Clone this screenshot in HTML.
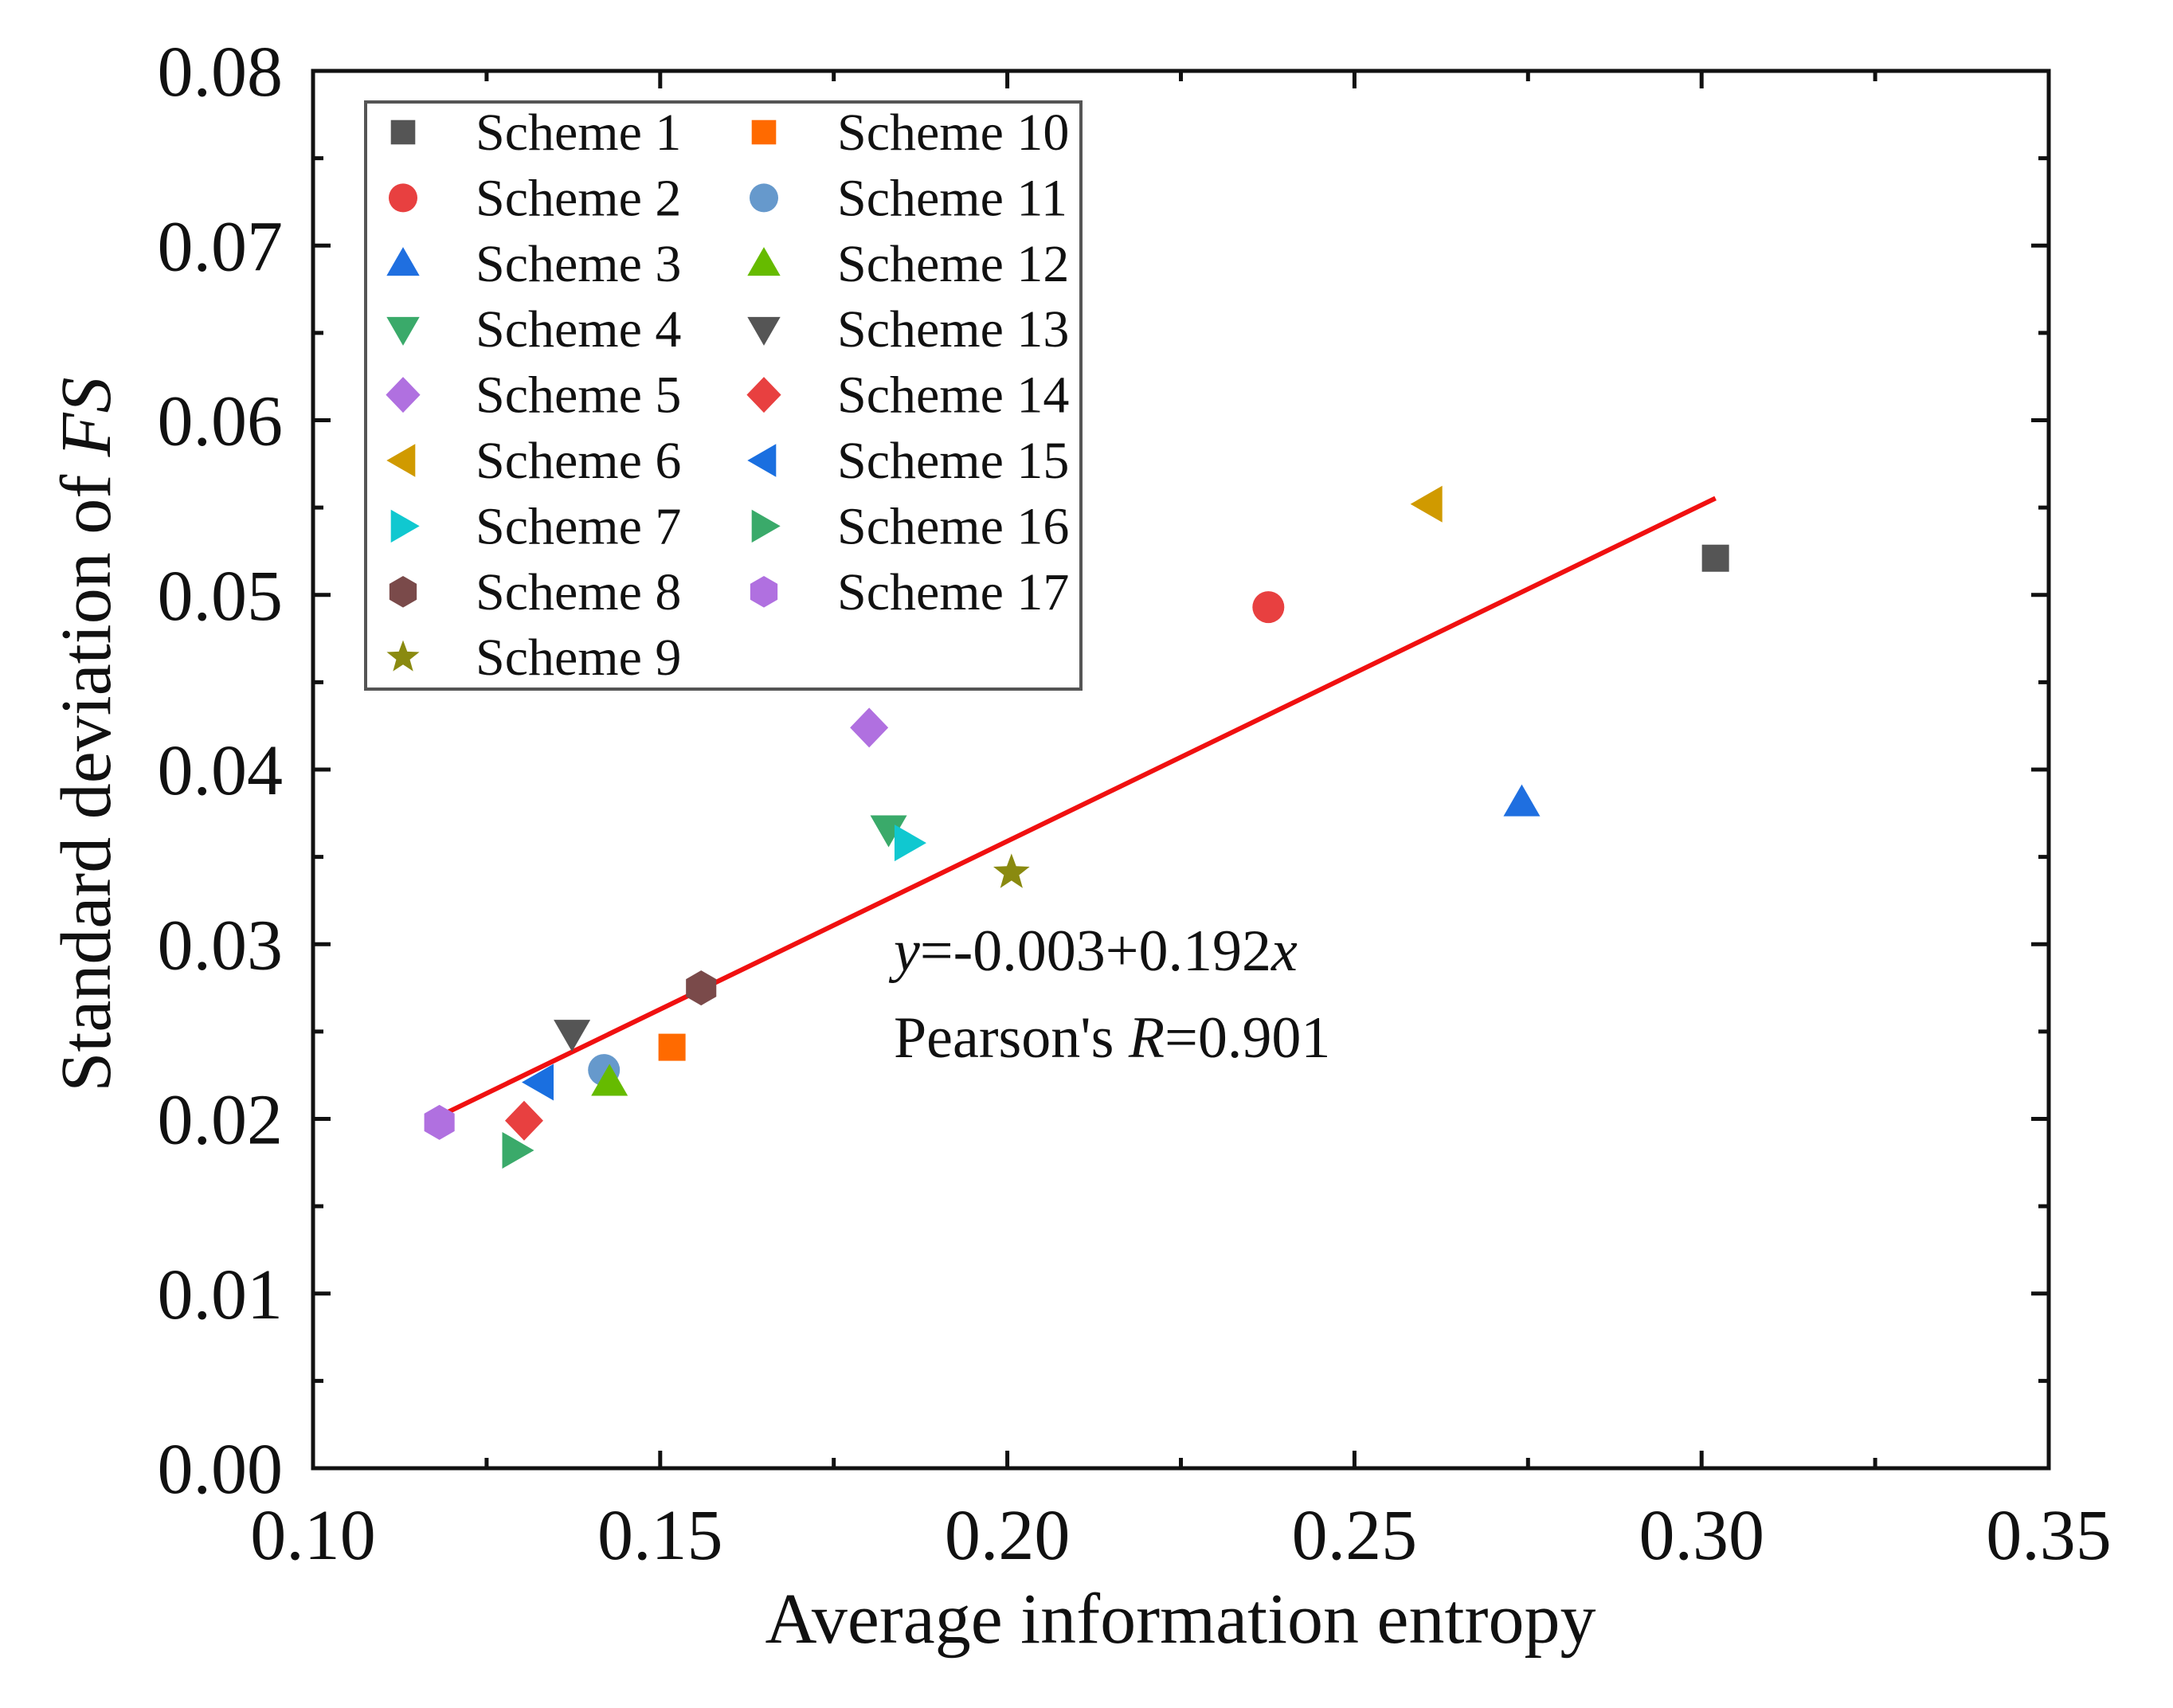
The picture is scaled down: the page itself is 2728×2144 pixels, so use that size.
<!DOCTYPE html>
<html><head><meta charset="utf-8"><style>
html,body{margin:0;padding:0;background:#fff;}
svg{display:block;font-family:"Liberation Serif",serif;}
</style></head><body>
<svg id="chart" width="2728" height="2144" viewBox="0 0 2728 2144" xmlns="http://www.w3.org/2000/svg">
<rect width="2728" height="2144" fill="#fff"/>
<g id="plot"></g>
</svg>
<script>
const schemes = ["Scheme 1","Scheme 2","Scheme 3","Scheme 4","Scheme 5","Scheme 6","Scheme 7","Scheme 8","Scheme 9","Scheme 10","Scheme 11","Scheme 12","Scheme 13","Scheme 14","Scheme 15","Scheme 16","Scheme 17"];
const xValues = [0.302,0.2376,0.2741,0.1829,0.1801,0.2607,0.1857,0.1559,0.2006,0.1517,0.1419,0.1427,0.1373,0.1304,0.1327,0.1292,0.1182];
const yValues = [0.0521,0.0493,0.0381,0.0366,0.0424,0.0552,0.0358,0.0275,0.0341,0.0241,0.0228,0.0221,0.0249,0.0199,0.0221,0.0182,0.0198];
const shapes = ["square","circle","up","down","diamond","left","right","hex","star","square","circle","up","down","diamond","left","right","hex"];
const colors = ["#555555","#e84040","#1f6fe0","#3aaa6a","#b070e0","#d09a00","#10c8d0","#7a4a4a","#8a8a10","#ff6a00","#6699cc","#66bb00","#555555","#e84040","#1a6fe0","#3aaa6a","#b070e0"];
const xTicks = [0.10,0.15,0.20,0.25,0.30,0.35];
const yTicks = [0.00,0.01,0.02,0.03,0.04,0.05,0.06,0.07,0.08];
const fitIntercept = -0.0026;
const fitSlope = 0.1925;
const fitRange = [0.1182,0.302];

const L=393,R=2572,T=89,B=1843;
const X0=0.10,X1=0.35,Y0=0,Y1=0.08;
const sx=v=>L+(v-X0)/(X1-X0)*(R-L);
const sy=v=>B-(v-Y0)/(Y1-Y0)*(B-T);
const NS="http://www.w3.org/2000/svg";
const g=document.getElementById('plot');
function el(tag,attrs,parent){const e=document.createElementNS(NS,tag);for(const k in attrs)e.setAttribute(k,attrs[k]);(parent||g).appendChild(e);return e;}

function marker(shape,cx,cy,color,s){
  let e;
  if(shape==="square") e=el('rect',{x:cx-s*0.85,y:cy-s*0.85,width:s*1.7,height:s*1.7,fill:color});
  else if(shape==="circle") e=el('circle',{cx:cx,cy:cy,r:s,fill:color});
  else {
    let pts=[];
    if(shape==="up") pts=[[0,-1.15],[1.15,0.85],[-1.15,0.85]];
    else if(shape==="down") pts=[[0,1.15],[1.15,-0.85],[-1.15,-0.85]];
    else if(shape==="left") pts=[[-1.15,0],[0.85,-1.15],[0.85,1.15]];
    else if(shape==="right") pts=[[1.15,0],[-0.85,-1.15],[-0.85,1.15]];
    else if(shape==="diamond") pts=[[0,-1.25],[1.2,0],[0,1.25],[-1.2,0]];
    else if(shape==="hex"){for(let i=0;i<6;i++){const a=Math.PI/6+i*Math.PI/3;pts.push([Math.cos(a)*1.1,Math.sin(a)*1.1]);}}
    else if(shape==="star"){for(let i=0;i<10;i++){const a=-Math.PI/2+i*Math.PI/5;const r=i%2?0.5:1.2;pts.push([Math.cos(a)*r,Math.sin(a)*r]);}}
    e=el('polygon',{points:pts.map(p=>(cx+p[0]*s)+','+(cy+p[1]*s)).join(' '),fill:color});
  }
  return e;
}

const frame=el('rect',{x:L,y:T,width:R-L,height:B-T,fill:'none',stroke:'#111','stroke-width':5});



xTicks.forEach((v,i)=>{
  const x=sx(v);
  el('line',{x1:x,y1:B,x2:x,y2:B-22,stroke:'#111','stroke-width':5});
  el('line',{x1:x,y1:T,x2:x,y2:T+22,stroke:'#111','stroke-width':5});
  if(i<xTicks.length-1){const m=sx(v+0.025);
    el('line',{x1:m,y1:B,x2:m,y2:B-13,stroke:'#111','stroke-width':5});
    el('line',{x1:m,y1:T,x2:m,y2:T+13,stroke:'#111','stroke-width':5});}
  const t=el('text',{x:x,y:1957,'text-anchor':'middle','font-size':90,fill:'#111'});
  t.textContent=v.toFixed(2);
  
  
});
yTicks.forEach((v,i)=>{
  const y=sy(v);
  el('line',{x1:L,y1:y,x2:L+22,y2:y,stroke:'#111','stroke-width':5});
  el('line',{x1:R,y1:y,x2:R-22,y2:y,stroke:'#111','stroke-width':5});
  if(i<yTicks.length-1){const m=sy(v+0.005);
    el('line',{x1:L,y1:m,x2:L+13,y2:m,stroke:'#111','stroke-width':5});
    el('line',{x1:R,y1:m,x2:R-13,y2:m,stroke:'#111','stroke-width':5});}
  const t=el('text',{x:355,y:y+31,'text-anchor':'end','font-size':90,fill:'#111'});
  t.textContent=v.toFixed(2);
  
  
});

const xt=el('text',{x:1482,y:2062,'text-anchor':'middle','font-size':90,fill:'#111'});
xt.textContent='Average information entropy';


const yt=el('text',{x:0,y:0,'text-anchor':'middle','font-size':90,fill:'#111',transform:'translate(138,922) rotate(-90)'});
yt.innerHTML='Standard deviation of <tspan font-style="italic">FS</tspan>';



const fl=el('line',{x1:sx(fitRange[0]),y1:sy(fitIntercept+fitSlope*fitRange[0]),x2:sx(fitRange[1]),y2:sy(fitIntercept+fitSlope*fitRange[1]),stroke:'#f01010','stroke-width':6});



schemes.forEach((s,i)=>{
  const m=marker(shapes[i],sx(xValues[i]),sy(yValues[i]),colors[i],20);
  
  
});

const a1=el('text',{x:1122,y:1218,'font-size':74,fill:'#111'});
a1.innerHTML='<tspan font-style="italic">y</tspan>=-0.003+0.192<tspan font-style="italic">x</tspan>';


const a2=el('text',{x:1122,y:1327,'font-size':74,fill:'#111'});
a2.innerHTML="Pearson's <tspan font-style=\"italic\">R</tspan>=0.901";



const lg=el('g',{});


el('rect',{x:459,y:128,width:898,height:737,fill:'#fff',stroke:'#555','stroke-width':4},lg);
schemes.forEach((s,i)=>{
  const col=i<9?0:1,row=i<9?i:i-9;
  const cy=166+row*82.4;
  const mx=col?959:506, tx=col?1051:597;
  const m=marker(shapes[i],mx,cy,colors[i],18);
  lg.appendChild(m);
  
  
  const t=el('text',{x:tx,y:cy+22,'font-size':66,fill:'#111'},lg);
  t.textContent=s;
  
  
});
</script>
</body></html>
